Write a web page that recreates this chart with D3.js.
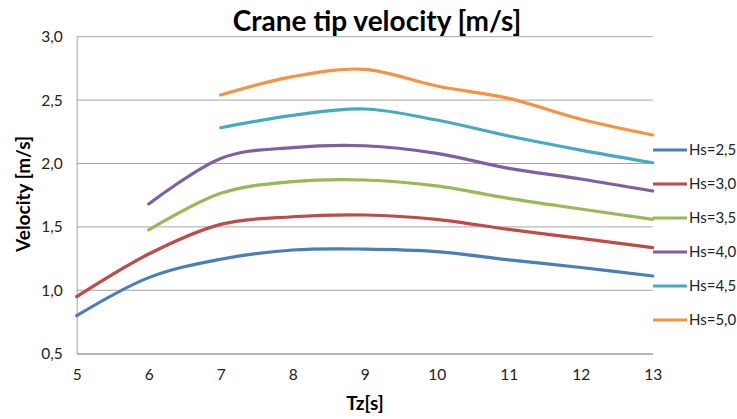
<!DOCTYPE html>
<html>
<head>
<meta charset="utf-8">
<script src="https://cdn.jsdelivr.net/npm/d3@7"></script>
<style>
  html, body { margin: 0; padding: 0; background: #fff; }
  svg { display: block; font-family: Lato, "Open Sans", sans-serif; }
</style>
</head>
<body>
<svg id="chart" width="737" height="419"></svg>
<script>
// Wave period Tz [s]
const tz = [5, 6, 7, 8, 9, 10, 11, 12, 13];

// Crane tip velocity [m/s] per significant wave height (null = no value)
const hs25 = [0.80, 1.10, 1.245, 1.318, 1.325, 1.305, 1.24, 1.18, 1.113];
const hs30 = [0.95, 1.286, 1.52, 1.58, 1.594, 1.56, 1.48, 1.41, 1.336];
const hs35 = [null, 1.476, 1.765, 1.857, 1.87, 1.823, 1.725, 1.641, 1.56];
const hs40 = [null, 1.68, 2.04, 2.125, 2.14, 2.08, 1.962, 1.878, 1.783];
const hs45 = [null, null, 2.282, 2.38, 2.43, 2.343, 2.217, 2.106, 2.006];
const hs50 = [null, null, 2.54, 2.685, 2.743, 2.611, 2.514, 2.349, 2.225];

const seriesNames = ["Hs=2,5", "Hs=3,0", "Hs=3,5", "Hs=4,0", "Hs=4,5", "Hs=5,0"];
const seriesValues = [hs25, hs30, hs35, hs40, hs45, hs50];
const seriesColors = ["#4A7EBB", "#BE4B48", "#98B954", "#7D60A0", "#46AAC5", "#F69240"];

const yTicks = [0.5, 1.0, 1.5, 2.0, 2.5, 3.0];
const xTicks = [5, 6, 7, 8, 9, 10, 11, 12, 13];

const svg = d3.select("#chart");
const plot = { left: 76.7, right: 652.7, top: 36.7, bottom: 353.7 };

const x = d3.scaleLinear().domain([5, 13]).range([plot.left, plot.right]);
const y = d3.scaleLinear().domain([0.5, 3.0]).range([plot.bottom, plot.top]);
const fmt = d => d.toFixed(1).replace(".", ",");

// horizontal gridlines
svg.append("g")
  .selectAll("line").data(yTicks).join("line")
  .attr("x1", plot.left).attr("x2", plot.right)
  .attr("y1", d => y(d)).attr("y2", d => y(d))
  .attr("stroke", "#a6a6a6").attr("stroke-width", 1);

// y axis
const yAxis = svg.append("g")
  .attr("transform", `translate(${plot.left},0)`)
  .call(d3.axisLeft(y).tickValues(yTicks).tickFormat(fmt).tickSize(0).tickPadding(14));
yAxis.select(".domain").attr("stroke", "#a6a6a6");
yAxis.selectAll("text").attr("font-size", 15.5).attr("fill", "#222")
  .attr("font-family", "Lato, 'Open Sans', sans-serif");

// x axis
const xAxis = svg.append("g")
  .attr("transform", `translate(0,${plot.bottom})`)
  .call(d3.axisBottom(x).tickValues(xTicks).tickFormat(d3.format("d")).tickSize(0).tickPadding(15));
xAxis.select(".domain").attr("stroke", "#a6a6a6");
xAxis.selectAll("text").attr("font-size", 15.5).attr("fill", "#222")
  .attr("font-family", "Lato, 'Open Sans', sans-serif");

// series lines
const line = d3.line()
  .defined(d => d.v != null)
  .x(d => x(d.t)).y(d => y(d.v))
  .curve(d3.curveCardinal.tension(0));

svg.append("g").selectAll("path")
  .data(seriesValues.map((vals, i) => ({ i, pts: tz.map((t, k) => ({ t, v: vals[k] })).filter(p => p.v != null) })))
  .join("path")
  .attr("d", d => line(d.pts))
  .attr("fill", "none")
  .attr("stroke", d => seriesColors[d.i])
  .attr("stroke-width", 3.2)
  .attr("stroke-linecap", "round");

// legend
const legend = svg.append("g").selectAll("g")
  .data(seriesNames).join("g")
  .attr("transform", (d, i) => `translate(653,${150 + i * 34})`);
legend.append("line")
  .attr("x1", 0).attr("x2", 34).attr("y1", 0).attr("y2", 0)
  .attr("stroke", (d, i) => seriesColors[i]).attr("stroke-width", 3.2);
legend.append("text")
  .attr("x", 36).attr("y", 0).attr("dy", "0.35em")
  .attr("font-size", 15).attr("fill", "#222")
  .text(d => d);

// title
svg.append("text")
  .attr("x", 377).attr("y", 31)
  .attr("text-anchor", "middle")
  .attr("font-size", 28).attr("font-weight", "bold").attr("fill", "#000")
  .text("Crane tip velocity [m/s]");

// axis titles
svg.append("text")
  .attr("x", 365).attr("y", 410)
  .attr("text-anchor", "middle")
  .attr("font-size", 19).attr("font-weight", "bold").attr("fill", "#000")
  .text("Tz[s]");

svg.append("text")
  .attr("transform", "translate(30,194) rotate(-90)")
  .attr("text-anchor", "middle")
  .attr("font-size", 19).attr("font-weight", "bold").attr("fill", "#000")
  .text("Velocity [m/s]");
</script>
</body>
</html>
